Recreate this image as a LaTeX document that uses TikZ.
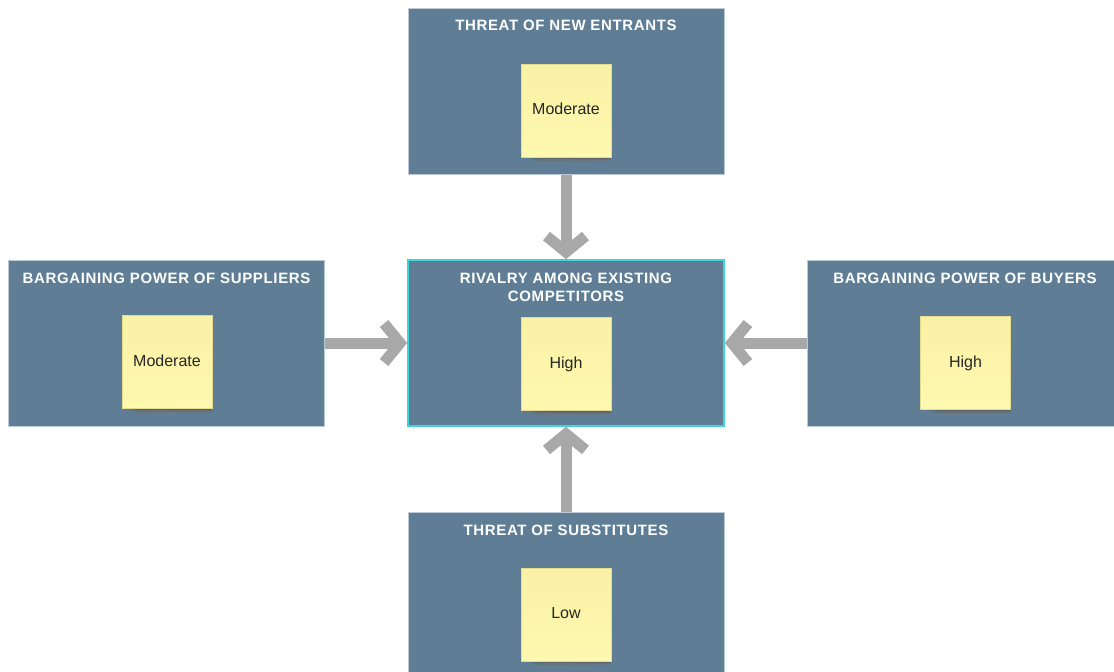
\documentclass[tikz,border=0pt]{standalone}
\usepackage{fontspec}
\setmainfont{Liberation Sans}
\usetikzlibrary{arrows.meta}
\definecolor{boxfill}{HTML}{5F7E96}
\definecolor{boxline}{HTML}{BCC8D3}
\definecolor{focusline}{HTML}{3FD3DB}
\definecolor{notetop}{HTML}{F9F1A4}
\definecolor{notebot}{HTML}{FEF8B0}
\definecolor{noteline}{HTML}{E6DA90}
\definecolor{arrowgray}{HTML}{A8A8A8}
\definecolor{shade}{HTML}{1E2A33}
\pgfdeclarelayer{bg}
\pgfdeclarelayer{shadelayer}
\pgfsetlayers{bg,shadelayer,main}
\tikzset{
  force/.style={draw=boxline, line width=1pt, fill=boxfill,
    minimum width=316pt, minimum height=166pt, inner sep=0pt},
  focus/.style={force, draw=focusline, line width=1.6pt},
  title/.style={text=white,
    font=\bfseries\fontsize{15}{18.5}\selectfont\addfontfeature{LetterSpace=4.3},
    align=center, inner sep=0pt},
  sticky/.style={draw=noteline, line width=0.5pt, top color=notetop, bottom color=notebot,
    minimum width=90pt, minimum height=93pt, inner sep=0pt,
    text=black!85, font=\fontsize{16}{18}\selectfont,
    text height=11.2pt, text depth=3pt},
  push/.style={draw=arrowgray, line width=11pt,
    -{Straight Barb[length=16pt, width=39pt]}}
}
\begin{document}
\begin{tikzpicture}[x=1pt, y=-1pt]
\useasboundingbox (0,0) rectangle (1114,672);
\begin{pgfonlayer}{bg}
  \node[force] (entrants)  at (566,91)  {};
  \node[focus] (rivalry)   at (566,343) {};
  \node[force] (suppliers) at (166.5,343) {};
  \node[force] (buyers)    at (965,343) {};
  \node[force] (substitutes) at (566,595) {};
\end{pgfonlayer}

% headings
\node[title] (tEntrants)  at (566,25)  {THREAT OF NEW ENTRANTS};
\node[title] (tRivalry)   at (566,287.5) {RIVALRY AMONG EXISTING\\COMPETITORS};
\node[title] (tSuppliers) at (166.5,278) {BARGAINING POWER OF SUPPLIERS};
\node[title] (tBuyers)    at (965,278) {BARGAINING POWER OF BUYERS};
\node[title] (tSubst)     at (566,530.5) {THREAT OF SUBSTITUTES};

% sticky notes with ratings
\node[sticky] (nEntrants)  at (566,110.5) {Moderate};
\node[sticky] (nRivalry)   at (566,364)   {High};
\node[sticky] (nSuppliers) at (167,362)   {Moderate};
\node[sticky] (nBuyers)    at (965.5,363) {High};
\node[sticky] (nSubst)     at (566,614.5) {Low};

% soft shadows under the notes
\begin{pgfonlayer}{shadelayer}
  \foreach \n in {nEntrants,nRivalry,nSuppliers,nBuyers,nSubst}{
    \fill[shade, opacity=0.14] ([xshift=8pt,yshift=1pt]\n.south west) -- ([xshift=1pt,yshift=1pt]\n.south east)
      -- ([xshift=-1pt,yshift=-5pt]\n.south east) -- ([xshift=14pt,yshift=-6pt]\n.south west) -- cycle;
    \fill[shade, opacity=0.16] ([xshift=12pt,yshift=1pt]\n.south west) -- ([xshift=0pt,yshift=1pt]\n.south east)
      -- ([xshift=-3pt,yshift=-3.5pt]\n.south east) -- ([xshift=18pt,yshift=-4.5pt]\n.south west) -- cycle;
    \fill[shade, opacity=0.2] ([xshift=18pt,yshift=1pt]\n.south west) -- ([xshift=-2pt,yshift=1pt]\n.south east)
      -- ([xshift=-6pt,yshift=-2pt]\n.south east) -- ([xshift=24pt,yshift=-3pt]\n.south west) -- cycle;
  }
\end{pgfonlayer}

% forces pressing on the rivalry box
\draw[push] (entrants.south)   -- (rivalry.north);
\draw[push] (substitutes.north) -- (rivalry.south);
\draw[push] (suppliers.east)   -- (rivalry.west);
\draw[push] (buyers.west)      -- (rivalry.east);
\end{tikzpicture}
\end{document}
